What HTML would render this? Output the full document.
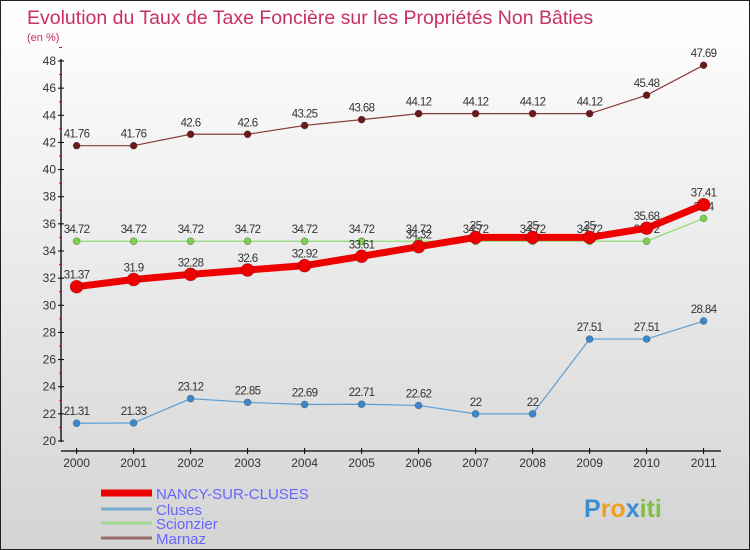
<!DOCTYPE html>
<html><head><meta charset="utf-8"><style>
body{margin:0}
#c{position:relative;width:750px;height:550px;box-sizing:border-box;border:1px solid #222;background:linear-gradient(#ffffff,#d4d4d4);font-family:"Liberation Sans",sans-serif;overflow:hidden}
</style></head><body>
<div id="c">
<svg id="s" width="750" height="550" style="position:absolute;left:0;top:0"></svg>
</div>
<script>
const years=["2000","2001","2002","2003","2004","2005","2006","2007","2008","2009","2010","2011"];
const nancy=[31.37,31.9,32.28,32.6,32.92,33.61,34.32,35,35,35,35.68,37.41];
const cluses=[21.31,21.33,23.12,22.85,22.69,22.71,22.62,22,22,27.51,27.51,28.84];
const scionzier=[34.72,34.72,34.72,34.72,34.72,34.72,34.72,34.72,34.72,34.72,34.72,36.4];
const marnaz=[41.76,41.76,42.6,42.6,43.25,43.68,44.12,44.12,44.12,44.12,45.48,47.69];
const nancyLbl=["31.37","31.9","32.28","32.6","32.92","33.61","34.32","35","35","35","35.68","37.41"];
const clusesLbl=["21.31","21.33","23.12","22.85","22.69","22.71","22.62","22","22","27.51","27.51","28.84"];
const scionLbl=["34.72","34.72","34.72","34.72","34.72","34.72","34.72","34.72","34.72","34.72","34.72","36.4"];
const marnazLbl=["41.76","41.76","42.6","42.6","43.25","43.68","44.12","44.12","44.12","44.12","45.48","47.69"];
const yTicks=[20,22,24,26,28,30,32,34,36,38,40,42,44,46,48];
const NS="http://www.w3.org/2000/svg";
const svg=document.getElementById('s');
const X=i=>75.6+i*57;
const Y=v=>440-(v-20)*380/28;
function el(t,a,p){const e=document.createElementNS(NS,t);for(const k in a)e.setAttribute(k,a[k]);(p||svg).appendChild(e);return e;}
function txt(x,y,s,a){const e=el('text',Object.assign({x:x,y:y},a));e.textContent=s;return e;}
let t=txt(26,23,"Evolution du Taux de Taxe Foncière sur les Propriétés Non Bâties",{fill:"#c8305f","font-size":"19.5"});

t=txt(26,40,"(en %)",{fill:"#c8305f","font-size":"11"});

let a=el('line',{x1:60,y1:58,x2:60,y2:441,stroke:"#000","stroke-width":1.3});

a=el('line',{x1:60,y1:450,x2:720,y2:450,stroke:"#000","stroke-width":1.3});

yTicks.forEach(v=>{
  el('line',{x1:57,y1:Y(v),x2:63,y2:Y(v),stroke:"#000"});
  el('line',{x1:58,y1:Y(v+1),x2:61,y2:Y(v+1),stroke:"#e00"});
  const l=txt(55,Y(v)+4,String(v),{"text-anchor":"end","font-size":"12",fill:"#333"});
  
});
years.forEach((y,i)=>{
  el('line',{x1:X(i),y1:447,x2:X(i),y2:453,stroke:"#000"});
  const l=txt(X(i),466,y,{"text-anchor":"middle","font-size":"12",fill:"#333"});
  
});
function series(d,lbl,col,dot,w,r,name){
  const g=el('g',{});
  
  el('polyline',{points:d.map((v,i)=>X(i)+","+Y(v)).join(" "),fill:"none",stroke:col,"stroke-width":w},g);
  d.forEach((v,i)=>{
    const c=el('circle',{cx:X(i),cy:Y(v),r:r,fill:dot,stroke:"rgba(0,0,0,0.3)","stroke-width":0.7},g);
    
    const l=txt(X(i),Y(v)-8,lbl[i],{"text-anchor":"middle","font-size":"11.5",fill:"#333","letter-spacing":"-0.6"},g);
    
  });
}
series(marnaz,marnazLbl,"#8a3a3a","#6b1a1a",1.2,3.5,"marnaz");
series(scionzier,scionLbl,"#90dd70","#80d050",1.2,3.5,"scionzier");
series(cluses,clusesLbl,"#5b9fd6","#3d88c8",1.2,3.5,"cluses");
series(nancy,nancyLbl,"#ee0000","#ee0000",7,6.5,"nancy-sur-cluses");
const leg=[["NANCY-SUR-CLUSES","#ee0000",7,15],["Cluses","#7aaed0",3,15],["Scionzier","#a0d890",3,15],["Marnaz","#9a6a6a",3,15]];
const ly=[498,514,528,543];
leg.forEach((L,i)=>{
  const g=el('g',{});
  
  el('line',{x1:100,y1:ly[i]-6,x2:151,y2:ly[i]-6,stroke:L[1],"stroke-width":L[2]},g);
  txt(155,ly[i],L[0],{fill:"#6666ff","font-size":L[3]},g);
});
const lg=el('text',{x:583,y:516,"font-size":"25","font-weight":"bold"});

[["P","#3a8fd0"],["ro","#f0a020"],["x","#3a8fd0"],["iti","#80c040"]].forEach(p=>{const s=el('tspan',{fill:p[1]},lg);s.textContent=p[0];});
</script>
</body></html>
